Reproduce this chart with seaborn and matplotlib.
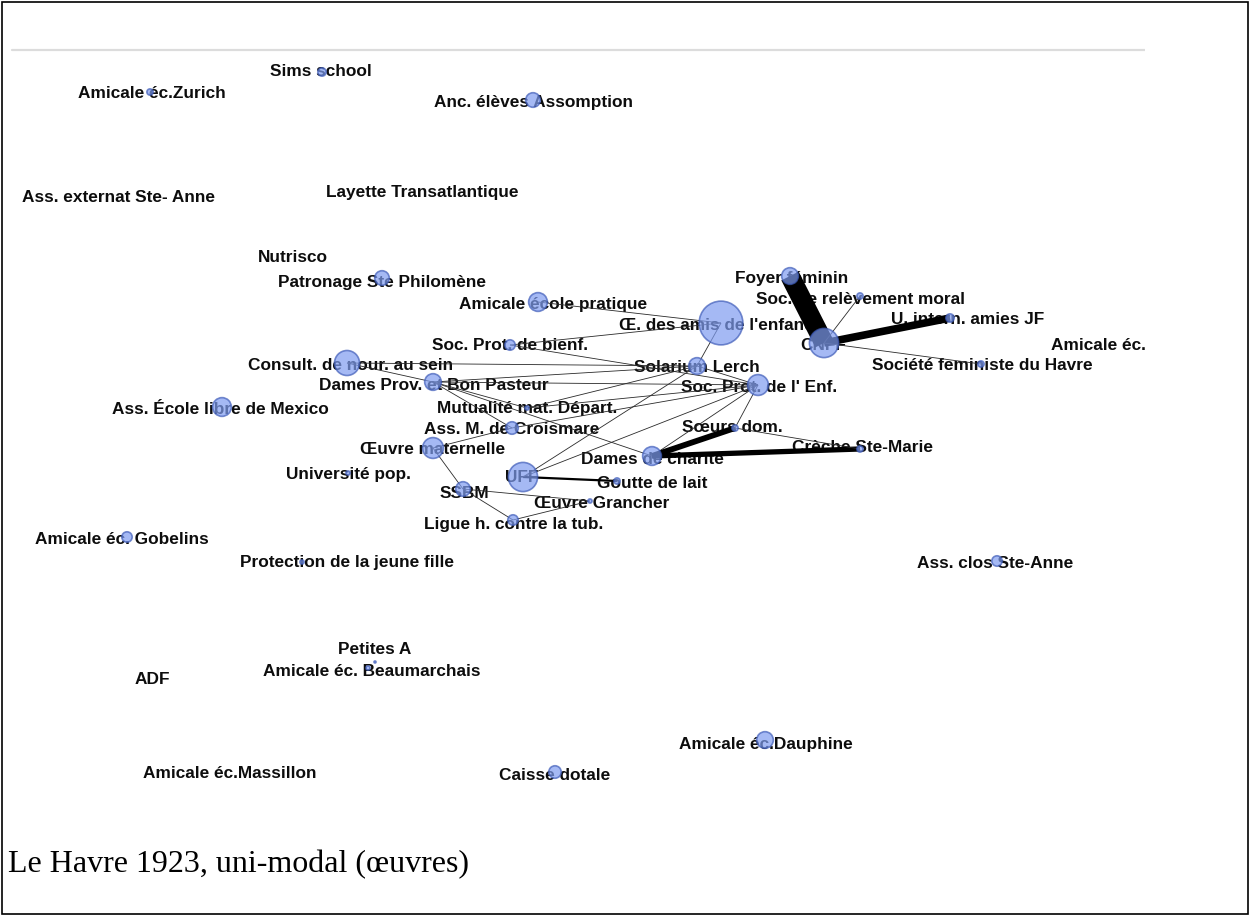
import matplotlib
matplotlib.use("Agg")
import matplotlib.pyplot as plt
import seaborn as sns
import pandas as pd
from matplotlib.patches import Rectangle

# node table (layout in picture pixels, radius in px)
names = [
    "Sims school", "Amicale éc.Zurich", "Anc. élèves Assomption",
    "Ass. externat Ste- Anne", "Layette Transatlantique", "Nutrisco",
    "Patronage Ste Philomène", "Amicale école pratique", "Œ. des amis de l'enfance",
    "Soc. Prot. de bienf.", "Consult. de nour. au sein", "Dames Prov. et Bon Pasteur",
    "Solarium Lerch", "Soc. Prot. de l' Enf.", "CNFF", "Foyer féminin",
    "Soc. de relèvement moral", "U. intern. amies JF", "Amicale éc.",
    "Société feministe du Havre", "Ass. École libre de Mexico", "Mutualité mat. Départ.",
    "Ass. M. de Croismare", "Œuvre maternelle", "Sœurs dom.", "Crèche Ste-Marie",
    "Dames de charité", "Université pop.", "UFF", "Goutte de lait", "SSBM",
    "Œuvre Grancher", "Ligue h. contre la tub.", "Amicale éc. Gobelins",
    "Protection de la jeune fille", "Ass. clos Ste-Anne", "Petites A",
    "Amicale éc. Beaumarchais", "ADF", "Amicale éc.Dauphine",
    "Amicale éc.Massillon", "Caisse dotale",
]
node_x = [322, 150, 533, 118, 422, 300, 382, 538, 721, 510, 347, 433, 697, 758,
          824, 790, 860, 950, 1160, 981, 222, 527, 512, 433, 735, 860, 652, 348,
          523, 617, 463, 590, 513, 127, 302, 997, 375, 368, 152, 765, 230, 555]
node_y = [72, 92, 100, 197, 193, 257, 278, 302, 323, 345, 363, 382, 366, 385,
          343, 276, 296, 318, 346, 364, 407, 408, 428, 448, 428, 449, 456, 473,
          477, 481, 489, 501, 520, 537, 562, 561, 662, 668, 679, 740, 772, 772]
node_r = [4, 3, 7, 0, 0, 0, 7, 9, 21, 5, 12, 8, 8, 10, 14, 8, 3, 4, 0, 3, 9, 2,
          6, 10, 3, 3, 9, 2, 14, 3, 7, 2, 5, 5, 2, 5, 1, 2, 0, 8, 0, 6]
label_x = [321, 152, 534, 118, 422, 293, 382, 553, 721, 510, 351, 434, 697, 759,
           823, 792, 861, 968, 1098, 982, 220, 527, 512, 433, 732, 863, 652, 348,
           522, 652, 464, 602, 514, 122, 347, 995, 375, 372, 152, 766, 230, 555]
label_y = [72, 94, 103, 198, 193, 258, 283, 305, 326, 346, 366, 386, 368, 387,
           345, 278, 299, 320, 346, 366, 410, 409, 430, 450, 427, 448, 460, 474,
           478, 483, 493, 503, 525, 539, 563, 564, 649, 671, 680, 744, 773, 776]

# edges: source, target, width (pt)
edge_src = ["Foyer féminin", "CNFF", "CNFF", "CNFF",
            "Œ. des amis de l'enfance", "Œ. des amis de l'enfance", "Œ. des amis de l'enfance",
            "Soc. Prot. de bienf.", "Consult. de nour. au sein", "Consult. de nour. au sein",
            "Dames Prov. et Bon Pasteur", "Dames Prov. et Bon Pasteur", "Dames Prov. et Bon Pasteur",
            "Dames Prov. et Bon Pasteur", "Dames Prov. et Bon Pasteur",
            "Mutualité mat. Départ.", "Mutualité mat. Départ.",
            "Ass. M. de Croismare", "Ass. M. de Croismare", "Œuvre maternelle",
            "SSBM", "SSBM", "Ligue h. contre la tub.",
            "UFF", "UFF", "UFF", "Dames de charité", "Dames de charité", "Dames de charité",
            "Sœurs dom.", "Sœurs dom.", "Solarium Lerch"]
edge_dst = ["CNFF", "U. intern. amies JF", "Soc. de relèvement moral", "Société feministe du Havre",
            "Solarium Lerch", "Amicale école pratique", "Soc. Prot. de bienf.",
            "Soc. Prot. de l' Enf.", "Dames Prov. et Bon Pasteur", "Solarium Lerch",
            "Solarium Lerch", "Soc. Prot. de l' Enf.", "Dames de charité",
            "Ass. M. de Croismare", "Mutualité mat. Départ.",
            "Soc. Prot. de l' Enf.", "Solarium Lerch",
            "Œuvre maternelle", "Soc. Prot. de l' Enf.", "SSBM",
            "Œuvre Grancher", "Ligue h. contre la tub.", "Œuvre Grancher",
            "Goutte de lait", "Solarium Lerch", "Soc. Prot. de l' Enf.",
            "Soc. Prot. de l' Enf.", "Sœurs dom.", "Crèche Ste-Marie",
            "Crèche Ste-Marie", "Soc. Prot. de l' Enf.", "Soc. Prot. de l' Enf."]
edge_w = [14, 5.5, 0.6, 0.6, 0.6, 0.6, 0.6, 0.6, 0.6, 0.6, 0.6, 0.6, 0.6, 0.6, 0.6,
          0.6, 0.6, 0.6, 0.6, 0.6, 0.6, 0.6, 0.6, 1.6, 0.6, 0.6, 0.6, 4.2, 3.8,
          0.6, 0.6, 0.6]

caption = "Le Havre 1923, uni-modal (œuvres)"

sns.set_theme(style="white")
plt.rcParams["font.family"] = ["Liberation Sans", "DejaVu Sans"]

nodes = pd.DataFrame({"name": names, "x": node_x, "y": node_y, "r": node_r})
nodes["area"] = (1.5 * nodes["r"]) ** 2
pos = {n: (x, y) for n, x, y in zip(names, node_x, node_y)}

fig = plt.figure(figsize=(12.5, 9.16), dpi=100)
fig.patch.set_facecolor("white")
net_w = 1145
ax = fig.add_axes([0, 0, net_w / 1250, 1])
ax.set_xlim(0, net_w)
ax.set_ylim(916, 0)
ax.axis("off")

# thin grey rule at the top of the network picture
ax.plot([12, net_w], [50, 50], color="#dcdcdc", lw=1.6, zorder=0)

# labels
for n, lx, ly in zip(names, label_x, label_y):
    ax.text(lx, ly, n, ha="center", va="center", fontsize=12.4,
            fontweight="bold", color="#0d0d0d", zorder=1, clip_on=True)

# edges
for s, t, w in zip(edge_src, edge_dst, edge_w):
    (x0, y0), (x1, y1) = pos[s], pos[t]
    ax.plot([x0, x1], [y0, y1], color="black" if w > 1 else "#2a2a2a",
            lw=w, solid_capstyle="butt", zorder=2)

# nodes
sns.scatterplot(data=nodes, x="x", y="y", size="area",
                sizes=(0, nodes["area"].max()), size_norm=(0, nodes["area"].max()),
                color="#7f9cf0", edgecolor="#3f5cb8", linewidth=1.2,
                alpha=0.7, legend=False, ax=ax, zorder=3)
ax.set_xlim(0, net_w)
ax.set_ylim(916, 0)
ax.axis("off")

# frame and caption
fig.patches.append(Rectangle((2 / 1250, 2 / 916), 1246 / 1250, 912 / 916,
                             transform=fig.transFigure, fill=False,
                             edgecolor="black", lw=1.2))
fig.text(8 / 1250, 1 - 872 / 916, caption, ha="left", va="baseline",
         fontsize=23, family="Liberation Serif", color="black")

fig.savefig("out.png", dpi=100)
